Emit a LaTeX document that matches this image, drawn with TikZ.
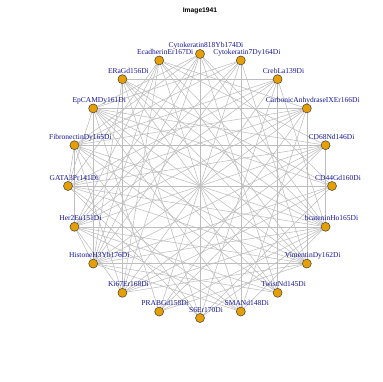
\documentclass[tikz,border=0pt]{standalone}
\usepackage{fontspec}
\setmainfont{Liberation Serif}
\newfontfamily\titlefont{Liberation Sans}
\usetikzlibrary{backgrounds}

\definecolor{vorange}{RGB}{230,159,0}
\definecolor{vblue}{RGB}{20,20,150}
\definecolor{egray}{RGB}{190,190,190}

\tikzset{
  vert/.style={circle, draw=black!75, fill=vorange, line width=0.5pt,
    inner sep=0pt, minimum size=9pt},
  vlab/.style={anchor=base, inner sep=0pt, text=vblue,
    font=\fontsize{7.5}{8}\selectfont},
  link/.style={draw=egray, line width=0.55pt}
}

\begin{document}
\begin{tikzpicture}[x=1pt, y=-1pt]
  \useasboundingbox (0,0) rectangle (382,382);

  % Title
  \node[anchor=base, inner sep=0pt, font=\titlefont\bfseries\fontsize{6.7}{7}\selectfont]
    (title) at (200,13) {Image1941};

  % Define nodes (circle layout, centre (200,186), radius 132; y axis points down)
  \node[vert] (cd44)  at ([shift={(0:132)}]200,186) {};
  \node[vert] (cd68)  at ([shift={(-18:132)}]200,186) {};
  \node[vert] (caix)  at ([shift={(-36:132)}]200,186) {};
  \node[vert] (creb)  at ([shift={(-54:132)}]200,186) {};
  \node[vert] (ck7)   at ([shift={(-72:132)}]200,186) {};
  \node[vert] (ck818) at ([shift={(-90:132)}]200,186) {};
  \node[vert] (ecad)  at ([shift={(-108:132)}]200,186) {};
  \node[vert] (era)   at ([shift={(-126:132)}]200,186) {};
  \node[vert] (epcam) at ([shift={(-144:132)}]200,186) {};
  \node[vert] (fn)    at ([shift={(-162:132)}]200,186) {};
  \node[vert] (gata3) at ([shift={(-180:132)}]200,186) {};
  \node[vert] (her2)  at ([shift={(-198:132)}]200,186) {};
  \node[vert] (h3)    at ([shift={(-216:132)}]200,186) {};
  \node[vert] (ki67)  at ([shift={(-234:132)}]200,186) {};
  \node[vert] (prab)  at ([shift={(-252:132)}]200,186) {};
  \node[vert] (s6)    at ([shift={(-270:132)}]200,186) {};
  \node[vert] (sma)   at ([shift={(-288:132)}]200,186) {};
  \node[vert] (twist) at ([shift={(-306:132)}]200,186) {};
  \node[vert] (vim)   at ([shift={(-324:132)}]200,186) {};
  \node[vert] (bcat)  at ([shift={(-342:132)}]200,186) {};

  % Labels, up and to the right of each vertex
  \foreach \v/\t in {cd44/CD44Gd160Di, cd68/CD68Nd146Di, caix/CarbonicAnhydraseIXEr166Di,
      creb/CrebLa139Di, ck7/Cytokeratin7Dy164Di, ck818/Cytokeratin818Yb174Di,
      ecad/EcadherinEr167Di, era/ERaGd156Di, epcam/EpCAMDy161Di, fn/FibronectinDy165Di,
      gata3/GATA3Pr141Di, her2/Her2Eu151Di, h3/HistoneH3Yb176Di, ki67/Ki67Er168Di,
      prab/PRABGd158Di, s6/S6Er170Di, sma/SMANd148Di, twist/TwistNd145Di,
      vim/VimentinDy162Di, bcat/bcateninHo165Di}
    \node[vlab] (\v-l) at ([shift={(6,-6)}]\v) {\t};

  % Define edges
  \begin{pgfonlayer}{background}
    \foreach \a/\b in {cd44/gata3, cd44/h3, cd44/era, cd44/s6, cd44/ck818, cd44/ki67, cd44/epcam,
        cd68/fn, cd68/her2, cd68/bcat, cd68/epcam, cd68/gata3, cd68/h3, cd68/ki67, cd68/prab, cd68/ecad,
        caix/epcam, caix/vim, caix/h3, caix/fn, caix/gata3, caix/her2, caix/prab, caix/sma, caix/ecad,
        creb/fn, creb/gata3, creb/her2, creb/ki67, creb/s6, creb/twist, creb/era, creb/bcat,
        ck7/prab, ck7/fn, ck7/her2, ck7/h3, ck7/sma, ck7/vim, ck7/epcam,
        ck818/s6, ck818/fn, ck818/her2, ck818/h3, ck818/twist, ck818/bcat, ck818/ki67, ck818/epcam,
        ecad/sma, ecad/her2, ecad/h3, ecad/ki67, ecad/vim, ecad/bcat, ecad/gata3,
        era/twist, era/ki67, era/s6, era/vim, era/bcat, era/h3,
        epcam/h3, epcam/vim, epcam/sma, epcam/twist, epcam/bcat, epcam/prab, epcam/gata3,
        fn/her2, fn/twist, fn/vim, fn/bcat, fn/s6, fn/ki67, fn/gata3,
        gata3/vim, gata3/bcat, gata3/sma, gata3/s6,
        her2/bcat, her2/twist, her2/vim, her2/sma, her2/ki67, her2/h3,
        h3/vim, h3/twist, h3/bcat, h3/sma,
        ki67/bcat, ki67/vim, prab/bcat, prab/vim, s6/bcat, sma/bcat}
      \draw[link] (\a) -- (\b);
  \end{pgfonlayer}
\end{tikzpicture}
\end{document}
